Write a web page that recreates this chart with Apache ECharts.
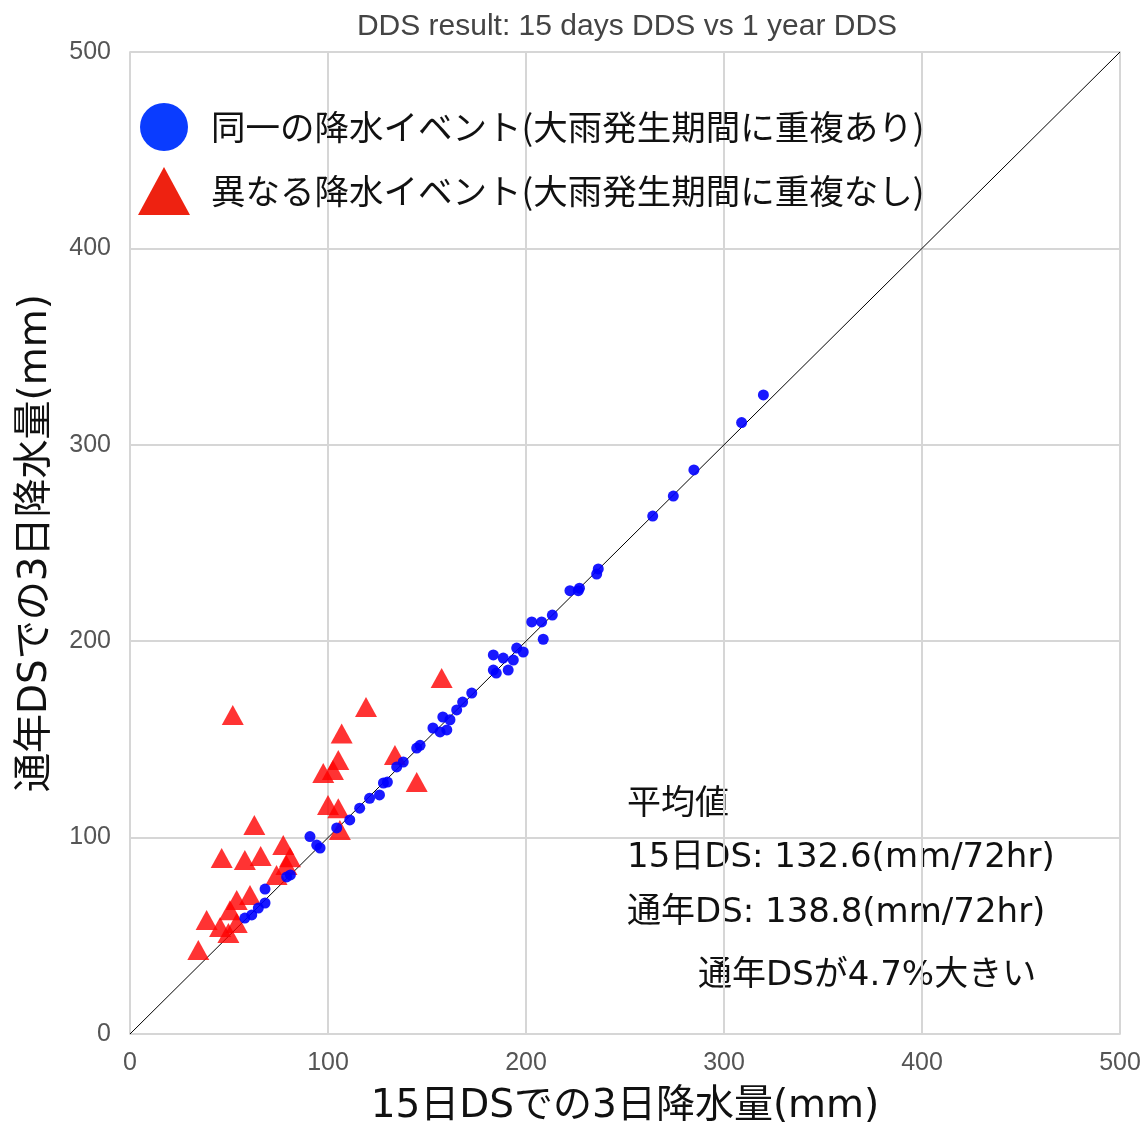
<!DOCTYPE html>
<html>
<head>
<meta charset="utf-8">
<script src="https://cdn.jsdelivr.net/npm/echarts@6/dist/echarts.min.js"></script>
<style>
  html, body { margin: 0; padding: 0; background: #fff; }
  #chart { width: 1140px; height: 1125px; }
</style>
</head>
<body>
<div id="chart"></div>
<script>
// 同一の降水イベント [15日DS, 通年DS]
var samePoints = [
  [58, 59], [61.5, 60.6], [64.8, 64.1], [68.2, 66.7], [68.2, 73.8], [79.1, 80], [81, 81],
  [90.9, 100.5], [94.3, 96.2], [96, 94.7], [104.4, 104.9], [111, 109], [116, 115], [121, 120],
  [126, 121.7], [128, 127.8], [130, 128.3], [134.7, 136], [138, 138.5], [144.8, 145.6],
  [146.5, 147], [153, 155.8], [156.6, 153.8], [160, 154.8], [158, 161.4], [161.6, 160],
  [165, 165], [168, 169], [172.6, 173.6], [183.5, 193], [188.5, 191.4], [193.6, 190.4],
  [195.3, 196.5], [198.6, 194.5], [183.5, 185.3], [185, 183.8], [191, 185.3], [208.7, 201],
  [202.9, 209.8], [207.9, 209.8], [213.3, 213.3], [222.2, 225.7], [226.4, 225.7], [227, 227],
  [235.7, 234.2], [236.5, 236.8], [264, 263.7], [274.4, 273.9], [284.8, 287.2],
  [308.9, 311.3], [319.9, 325.4]
];

// 異なる降水イベント [15日DS, 通年DS]
var diffPoints = [
  [51.9, 162.4], [62.8, 106.4], [46.3, 89.6], [58, 88.6], [66, 90.6], [77.4, 96.2],
  [80.8, 90], [79, 86], [74, 81], [60.6, 70.8], [53.9, 68.2], [50.5, 63], [38.7, 58],
  [45.5, 54.5], [49.7, 51.4], [53.9, 56.5], [34.5, 42.8], [119.2, 166.5], [106.9, 153],
  [105.2, 139.5], [97.6, 132.9], [102.5, 134.4], [100, 116.6], [105.2, 115], [106, 103.9],
  [157.4, 181.3], [133.8, 142], [144.8, 128.3]
];

var diagLine = [[0, 0], [500, 500]];

var legendNames = ['同一の降水イベント(大雨発生期間に重複あり)', '異なる降水イベント(大雨発生期間に重複なし)'];
var noteLines = ['平均値', '15日DS: 132.6(mm/72hr)', '通年DS: 138.8(mm/72hr)', '通年DSが4.7%大きい'];

var jpFont = '"Noto Sans CJK JP", sans-serif';
var mixFont = '"DejaVu Sans", "Noto Sans CJK JP", sans-serif';
var titleFont = '"Liberation Sans", Arial, sans-serif';
var tickFont = '"Liberation Sans", Arial, sans-serif';

var myChart = echarts.init(document.getElementById('chart'));

myChart.setOption({
    animation: false,
    backgroundColor: '#fff',
    title: {
        text: 'DDS result: 15 days DDS vs 1 year DDS',
        left: 622,
        textAlign: 'center',
        top: 7,
        textStyle: { fontFamily: titleFont, fontSize: 30, fontWeight: 'normal', color: '#444' }
    },
    grid: {
        left: 130, right: 20, top: 52, bottom: 91,
        outerBoundsMode: 'none',
        containLabel: false,
        show: true, borderColor: '#d0d0d0', borderWidth: 1.5
    },
    legend: {
        orient: 'vertical',
        left: 133,
        top: 98,
        itemWidth: 52,
        itemHeight: 48,
        itemGap: 16,
        textStyle: { fontFamily: jpFont, fontSize: 34.5, color: '#111', padding: [0, 0, 0, 16] },
        data: [
            { name: legendNames[0], icon: 'circle', itemStyle: { color: '#0a3cff', opacity: 1 } },
            { name: legendNames[1], icon: 'triangle', itemStyle: { color: '#ee2211', opacity: 1 } }
        ]
    },
    xAxis: {
        type: 'value',
        min: 0, max: 500, interval: 100,
        name: '15日DSでの3日降水量(mm)',
        nameLocation: 'middle',
        nameGap: 53,
        nameTextStyle: { fontFamily: mixFont, fontSize: 39, color: '#111' },
        axisLine: { show: false },
        axisTick: { show: false },
        axisLabel: { fontFamily: tickFont, fontSize: 25, color: '#555', margin: 17 },
        splitLine: { lineStyle: { color: '#d6d6d6', width: 2 } }
    },
    yAxis: {
        type: 'value',
        min: 0, max: 500, interval: 100,
        name: '通年DSでの3日降水量(mm)',
        nameLocation: 'middle',
        nameGap: 75,
        nameTextStyle: { fontFamily: mixFont, fontSize: 39, color: '#111' },
        axisLine: { show: false },
        axisTick: { show: false },
        axisLabel: { fontFamily: tickFont, fontSize: 25, color: '#555', margin: 19 },
        splitLine: { lineStyle: { color: '#d6d6d6', width: 2 } }
    },
    graphic: [
        { type: 'text', left: 627, top: 788, style: { text: noteLines[0], font: '34px ' + mixFont, fill: '#111' } },
        { type: 'text', left: 627, top: 841, style: { text: noteLines[1], font: '34px ' + mixFont, fill: '#111' } },
        { type: 'text', left: 627, top: 896, style: { text: noteLines[2], font: '34px ' + mixFont, fill: '#111' } },
        { type: 'text', left: 698, top: 959, style: { text: noteLines[3], font: '34px ' + mixFont, fill: '#111' } }
    ],
    series: [
        {
            name: 'diag',
            type: 'line',
            data: diagLine,
            symbol: 'none',
            silent: true,
            lineStyle: { color: '#000', width: 1 },
            z: 1
        },
        {
            name: legendNames[0],
            type: 'scatter',
            data: samePoints,
            symbol: 'circle',
            symbolSize: 11,
            itemStyle: { color: '#0000ff', opacity: 0.9 },
            z: 3
        },
        {
            name: legendNames[1],
            type: 'scatter',
            data: diffPoints,
            symbol: 'triangle',
            symbolSize: [22, 20],
            itemStyle: { color: '#ff0000' },
            z: 2
        }
    ]
});

window.addEventListener('resize', myChart.resize);
</script>
</body>
</html>
